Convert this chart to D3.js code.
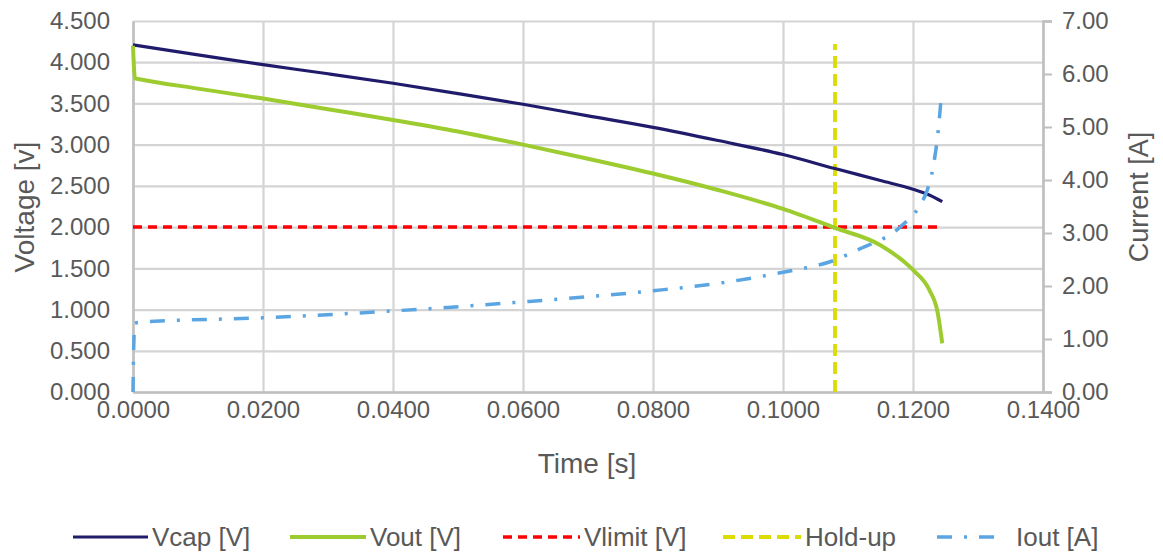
<!DOCTYPE html>
<html>
<head>
<meta charset="utf-8">
<script src="https://cdn.jsdelivr.net/npm/d3@7"></script>
<style>
  body { margin: 0; background: #fff; }
  svg text { font-family: "Liberation Sans", Arial, sans-serif; fill: #595959; }
</style>
</head>
<body>
<svg id="chart" width="1163" height="552"></svg>
<script>
// time axis values [s] and readings
var capTime = [0, 0.01, 0.02, 0.03, 0.04, 0.05, 0.06, 0.07, 0.08, 0.09, 0.10, 0.108, 0.115, 0.12, 0.1225, 0.1245];
var vcap    = [4.21, 4.09, 3.97, 3.86, 3.745, 3.62, 3.49, 3.35, 3.21, 3.05, 2.88, 2.71, 2.565, 2.46, 2.39, 2.31];

var outTime = [0, 0.0003, 0.0006, 0.01, 0.02, 0.03, 0.04, 0.05, 0.06, 0.07, 0.08, 0.09, 0.10, 0.108, 0.115, 0.12, 0.1225, 0.1238, 0.1245];
var vout    = [4.20, 3.805, 3.80, 3.68, 3.56, 3.43, 3.30, 3.16, 3.00, 2.83, 2.65, 2.45, 2.22, 1.99, 1.78, 1.48, 1.24, 0.96, 0.59];

var limTime = [0, 0.1245];
var vlimit  = [2.0, 2.0];

var holdTime = [0.108, 0.108];
var holdup   = [0, 4.22];

var iTime = [0, 0.0001, 0.0003, 0.0015, 0.02, 0.04, 0.06, 0.08, 0.09, 0.10, 0.108, 0.1118, 0.118, 0.1211, 0.1222, 0.1231, 0.124, 0.1243];
var iout  = [0, 0.80, 1.30, 1.32, 1.40, 1.53, 1.70, 1.91, 2.05, 2.26, 2.49, 2.70, 3.11, 3.53, 3.81, 4.25, 5.08, 5.51];

var xTicks = [0, 0.02, 0.04, 0.06, 0.08, 0.10, 0.12, 0.14];
var vTicks = [0, 0.5, 1.0, 1.5, 2.0, 2.5, 3.0, 3.5, 4.0, 4.5];
var iTicks = [0, 1, 2, 3, 4, 5, 6, 7];

var names   = ["Vcap [V]", "Vout [V]", "Vlimit [V]", "Hold-up", "Iout [A]"];

var svg = d3.select("#chart");
var margin = {top: 21, right: 120, bottom: 160, left: 133};
var width = 1043 - margin.left,
    height = 392 - margin.top;

var g = svg.append("g").attr("transform", "translate(" + margin.left + "," + margin.top + ")");

var x = d3.scaleLinear().domain([0, 0.14]).range([0, width]);
var yV = d3.scaleLinear().domain([0, 4.5]).range([height, 0]);
var yI = d3.scaleLinear().domain([0, 7]).range([height, 0]);

// grid
g.append("g").attr("class", "grid")
  .call(d3.axisLeft(yV).tickValues(vTicks).tickSize(-width).tickFormat(""))
  .call(function(s){ s.select(".domain").remove(); });
g.append("g").attr("class", "grid")
  .attr("transform", "translate(0," + height + ")")
  .call(d3.axisBottom(x).tickValues(xTicks).tickSize(-height).tickFormat(""))
  .call(function(s){ s.select(".domain").remove(); });
g.selectAll(".grid line").attr("stroke", "#d4d4d4").attr("stroke-width", 2.2);

// axes
var yAxisL = g.append("g")
  .call(d3.axisLeft(yV).tickValues(vTicks).tickFormat(d3.format(".3f")).tickSize(0).tickPadding(23));
var xAxis = g.append("g")
  .attr("transform", "translate(0," + height + ")")
  .call(d3.axisBottom(x).tickValues(xTicks).tickFormat(d3.format(".4f")).tickSize(0).tickPadding(9));
var yAxisR = g.append("g")
  .attr("transform", "translate(" + width + ",0)")
  .call(d3.axisRight(yI).tickValues(iTicks).tickFormat(d3.format(".2f")).tickSize(9).tickPadding(10));

[yAxisL, xAxis, yAxisR].forEach(function(a){
  a.select(".domain").attr("stroke", "#bfbfbf").attr("stroke-width", 2.5);
  a.selectAll("line").attr("stroke", "#bfbfbf").attr("stroke-width", 2);
  a.selectAll("text").style("font-size", "24px").attr("fill", "#595959");
});

// titles
svg.append("text").attr("transform", "translate(34,207) rotate(-90)")
  .attr("text-anchor", "middle").style("font-size", "28px").text("Voltage [v]");
svg.append("text").attr("transform", "translate(1148,197) rotate(-90)")
  .attr("text-anchor", "middle").style("font-size", "27px").text("Current [A]");
svg.append("text").attr("x", 587).attr("y", 473)
  .attr("text-anchor", "middle").style("font-size", "28px").text("Time [s]");

// series
function zip(a, b){ return a.map(function(t, i){ return [t, b[i]]; }); }
var series = [
  {name: names[0], pts: zip(capTime, vcap),  y: yV, color: "#201c6b", w: 3.2, dash: null,          curve: d3.curveMonotoneX},
  {name: names[1], pts: zip(outTime, vout),  y: yV, color: "#9ccc2f", w: 4,   dash: null,          curve: d3.curveMonotoneX},
  {name: names[2], pts: zip(limTime, vlimit),y: yV, color: "#ff0000", w: 3.5, dash: "9,6",         curve: d3.curveLinear},
  {name: names[3], pts: zip(holdTime, holdup),y: yV, color: "#dcdc00", w: 3.8, dash: "12,6",       curve: d3.curveLinear},
  {name: names[4], pts: zip(iTime, iout),    y: yI, color: "#5aa5e2", w: 3.5, dash: "15,12,3,12",  curve: d3.curveMonotoneX}
];

var order = [2, 3, 0, 4, 1];
order.forEach(function(k){
  var s = series[k];
  var line = d3.line().curve(s.curve)
    .x(function(d){ return x(d[0]); })
    .y(function(d){ return s.y(d[1]); });
  g.append("path").datum(s.pts)
    .attr("d", line)
    .attr("fill", "none")
    .attr("stroke", s.color)
    .attr("stroke-width", s.w)
    .attr("stroke-dasharray", s.dash)
    .attr("stroke-linejoin", "round");
});

// legend
var legX = [73, 290, 503, 723, 937];
var legLen = [75, 76, 77, 78, 62];
var leg = svg.append("g");
series.forEach(function(s, i){
  leg.append("line")
    .attr("x1", legX[i]).attr("x2", legX[i] + legLen[i])
    .attr("y1", 537).attr("y2", 537)
    .attr("stroke", s.color).attr("stroke-width", s.w)
    .attr("stroke-dasharray", s.dash);
  leg.append("text")
    .attr("x", legX[i] + legLen[i] + (i === 4 ? 17 : 4)).attr("y", 546)
    .style("font-size", "26px").text(s.name);
});
</script>
</body>
</html>
